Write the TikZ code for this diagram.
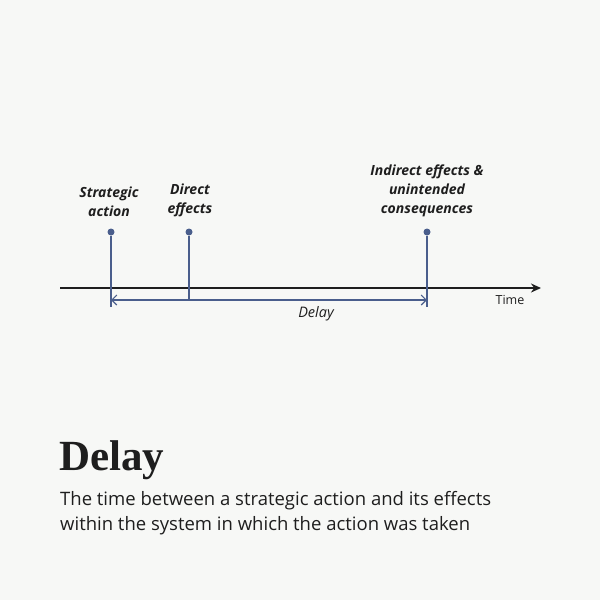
\documentclass[tikz,border=0pt]{standalone}
\usepackage{fontspec}
\setmainfont{Open Sans}
\newfontfamily\titlefont{Liberation Serif}
\usetikzlibrary{arrows.meta}
\definecolor{bgc}{HTML}{F7F8F6}
\definecolor{stemc}{HTML}{4A5E8C}
\definecolor{inkc}{HTML}{1E1E1E}
\begin{document}
\begin{tikzpicture}[x=1pt,y=-1pt,
    stem/.style={draw=stemc, line width=1.4pt},
    event/.style={font=\fontsize{14}{19}\selectfont\bfseries\itshape, text=inkc, align=center}]

    \fill[bgc] (0,0) rectangle (600,600);
    \useasboundingbox (0,0) rectangle (600,600);

    % time axis
    \coordinate (t0) at (60,288);
    \coordinate (t1) at (541,288);
    \draw[inkc, line width=2.6pt, -{Stealth[length=10pt,width=9pt]}] (t0) -- (t1);
    \node[font=\fontsize{12.5}{14}\selectfont, text=inkc] (time) at (510,300) {Time};

    % events
    \node[circle, fill=stemc, inner sep=0pt, minimum size=7pt] (sa) at (111,232) {};
    \node[circle, fill=stemc, inner sep=0pt, minimum size=7pt] (de) at (189,232) {};
    \node[circle, fill=stemc, inner sep=0pt, minimum size=7pt] (ie) at (427,232) {};
    \coordinate (saend) at (111,307);
    \coordinate (ieend) at (427,307);
    \coordinate (dl) at (111,300);
    \coordinate (dr) at (427,300);
    \coordinate (deend) at (189,300);
    \draw[stem] (sa) -- (saend);
    \draw[stem] (de) -- (deend);
    \draw[stem] (ie) -- (ieend);
    \draw[stemc, line width=1.1pt, {Straight Barb[length=5pt]}-{Straight Barb[length=5pt]}] (dl) -- (dr);

    \node[event, anchor=south] (salab) at (109,220) {Strategic\\action};
    \node[event, anchor=south] (delab) at (190,220) {Direct\\effects};
    \node[event, anchor=south] (ielab) at (427,220) {Indirect effects \&\\unintended\\consequences};
    \node[font=\fontsize{14.5}{17}\selectfont\itshape, text=inkc] (delay) at (316,314) {Delay};

    % caption
    \node[anchor=base west, inner sep=0pt, font=\fontsize{43}{46}\selectfont\titlefont\bfseries, text=inkc] (title) at (59,470) {Delay};
    \node[anchor=north west, inner sep=0pt, align=left, font=\fontsize{18.5}{25}\selectfont, text=inkc] (body) at (60,491)
        {The time between a strategic action and its effects\\within the system in which the action was taken};
\end{tikzpicture}
\end{document}
